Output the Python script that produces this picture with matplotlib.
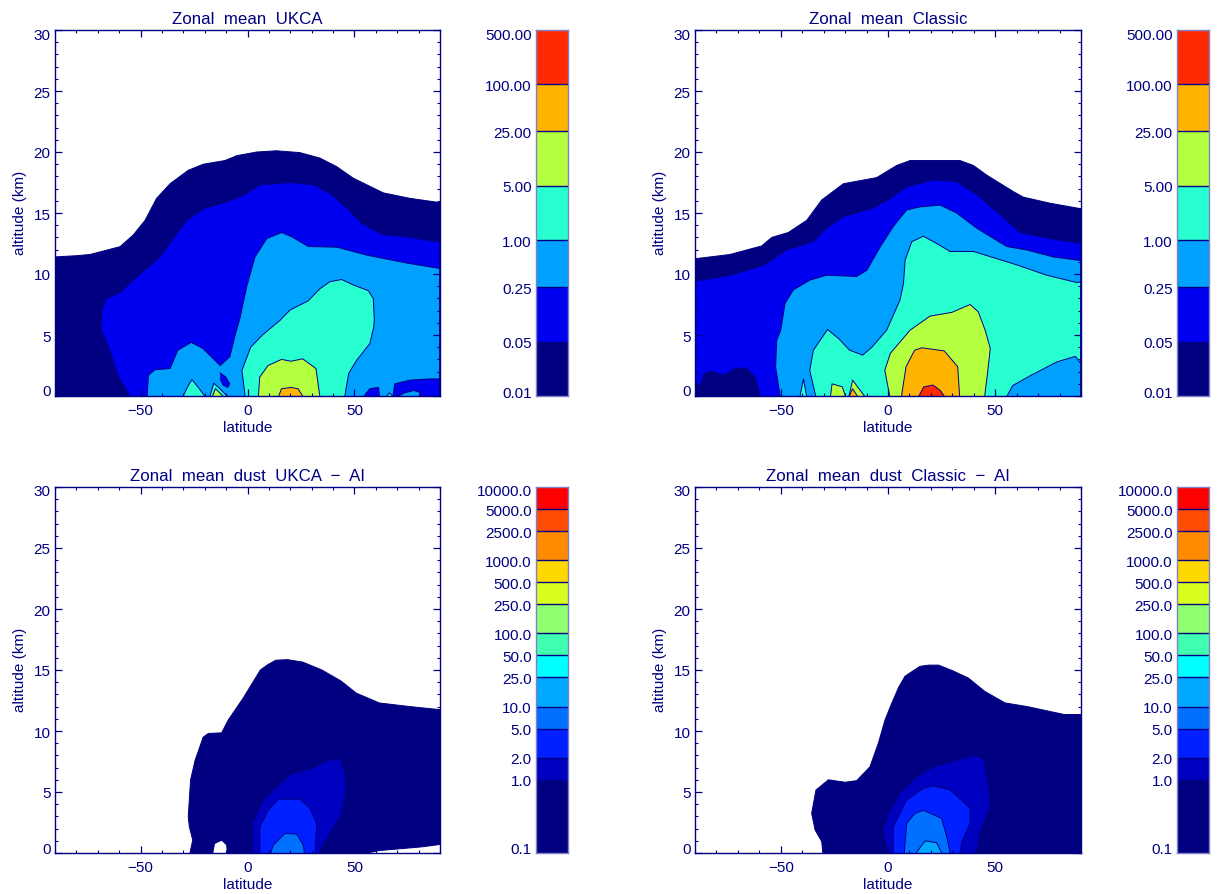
"""Zonal mean dust cross sections, latitude against altitude, four panels."""

import matplotlib
matplotlib.use('Agg')
import matplotlib.pyplot as plt
from matplotlib.transforms import ScaledTranslation

NAVY = '#000080'
plt.rcParams['font.family'] = ['Liberation Sans', 'DejaVu Sans']

# Colour bar levels and colours
levels_top = [0.01, 0.05, 0.25, 1.0, 5.0, 25.0, 100.0, 500.0]
labels_top = ['0.01', '0.05', '0.25', '1.00', '5.00', '25.00', '100.00', '500.00']
colors_top = ['#000080', '#0000f0', '#00a0ff', '#28ffd0', '#b4ff40', '#ffb400', '#ff2a00']

levels_low = [0.1, 1, 2, 5, 10, 25, 50, 100, 250, 500, 1000, 2500, 5000, 10000]
labels_low = ['0.1', '1.0', '2.0', '5.0', '10.0', '25.0', '50.0', '100.0', '250.0', '500.0',
              '1000.0', '2500.0', '5000.0', '10000.0']
colors_low = ['#000080', '#0000c0', '#0020ff', '#0070ff', '#00a8ff', '#00ffff', '#40ffb0',
              '#90ff70', '#d8ff20', '#ffd800', '#ff8c00', '#ff4c00', '#ff0000']

# Contours, (latitude, altitude km)
ukca_001 = [(-90, 0), (-90, 11.4), (-80, 11.5), (-73.6, 11.6), (-59.6, 12.24), (-53.4, 13.2), (-47.9, 14.4),
            (-42.5, 16.2), (-36.2, 17.4), (-27.7, 18.5), (-20.7, 19), (-10.5, 19.3), (-5, 19.7), (4.3, 20),
            (13.6, 20.1), (24.5, 19.95), (33.9, 19.5), (41.7, 18.8), (49.5, 17.85), (63.5, 16.65),
            (76, 16.2), (90, 15.85), (90, 0)]
ukca_005 = [(-55, 0), (-60.4, 1.6), (-64.9, 4), (-68.5, 5.5), (-68.2, 7.05), (-65.8, 8), (-59.6, 8.47),
            (-53.4, 9.5), (-40.9, 11.4), (-34.7, 12.9), (-28.4, 14.4), (-19.9, 15.4), (-11.3, 15.8),
            (-1.2, 16.5), (5.8, 17.3), (19.9, 17.5), (30.8, 17.3), (38.6, 16.6), (46.4, 15.4),
            (53.4, 14.15), (62.7, 13.25), (76, 13), (90, 12.6), (90, 0)]
ukca_025 = [(-46.9, 0), (-46.3, 1.7), (-43.3, 2.15), (-36.2, 2.25), (-32.6, 3.75), (-26.3, 4.4),
            (-20.9, 3.9), (-12.8, 2.5), (-8.3, 3.2), (-5.6, 5.1), (-3.5, 6.4), (-0.4, 8.95), (3.5, 11.4),
            (9, 12.9), (16, 13.4), (20.7, 13.05), (28.4, 12.25), (41.7, 12.2), (55.7, 11.55), (74.4, 10.9),
            (90, 10.45), (90, 0)]
ukca_hole_a = [(-12.8, 1.9), (-10.1, 1.55), (-8.3, 1), (-9.2, 0.7), (-11.4, 0.9), (-12.8, 1.4)]
ukca_hole_b = [(54.5, 0), (57.2, 0.6), (61.3, 0.7), (61.7, 0)]
ukca_hole_c = [(68, 0), (68.9, 1), (76, 1.3), (85, 1.4), (90, 1.4), (90, 0)]
ukca_blot_a = [(70.7, 0), (73.3, 0.25), (77.8, 0.45), (80.5, 0.3), (81, 0)]
ukca_blot_b = [(65.3, 0), (66.2, 0.25), (68, 0)]
ukca_1_main = [(-1.1, 0), (-2.6, 2.1), (1.5, 4), (7, 5), (15.2, 6.2), (19.9, 7.05), (28.4, 7.8), (33.9, 8.8),
               (38.6, 9.37), (44, 9.55), (49.5, 9.1), (56.5, 8.63), (58.8, 8), (59.3, 6.2), (59, 5.65),
               (57.2, 4.3), (50.9, 2.9), (47.3, 1.85), (45.5, 0)]
ukca_1_left = [(-30, 0), (-28, 0.75), (-26, 1.35), (-23, 0.7), (-20, 0)]
ukca_1_spot = [(-17.5, 0), (-15.8, 1.05), (-13, 0.6), (-9.5, 0)]
ukca_5_spot = [(-16.3, 0), (-15, 0.6), (-11.5, 0)]
ukca_5_main = [(5.1, 0), (5.7, 1.55), (9.6, 2.5), (15.9, 3), (20.4, 2.85), (25.8, 3.05), (32, 2.25),
               (33.8, 0)]
ukca_25_main = [(14.6, 0), (15.9, 0.6), (20.4, 0.7), (23.6, 0.6), (25.8, 0)]

classic_001 = [(-90, 0), (-90, 11.25), (-73.7, 11.6), (-58.9, 12.3), (-54.2, 13), (-46.5, 13.4),
               (-37.9, 14.4), (-30.9, 16.07), (-20.8, 17.4), (-5.3, 17.9), (4.1, 18.9), (10.3, 19.3),
               (33.6, 19.3), (39.8, 18.9), (46.1, 18.1), (58.5, 16.75), (63.1, 16.3), (75.6, 15.8),
               (90, 15.35), (90, 0)]
classic_005 = [(-90, 0), (-90, 9.4), (-73.7, 9.9), (-58.1, 10.7), (-47.3, 11.97), (-34.8, 12.65),
               (-28.6, 13.75), (-20.8, 14.7), (-6.8, 15.4), (1, 16.2), (8.7, 17.15), (21.2, 17.7),
               (32, 17.57), (41.4, 16.5), (50.7, 15.1), (61.6, 13.4), (75.6, 12.9), (90, 12.5), (90, 0)]
classic_hole = [(-90, 0), (-90, 1.2), (-87.5, 0.8), (-86, 1.8), (-82.6, 2.05), (-76.5, 1.7),
                (-71.4, 2.25), (-66.2, 2.3), (-61.9, 1.55), (-59.6, 0)]
classic_025 = [(-50.3, 0), (-52.4, 2.4), (-51.9, 4.55), (-50, 5.4), (-48, 7.6), (-44.1, 8.7), (-36.4, 9.5),
               (-28.6, 9.9), (-14.6, 9.8), (-9.9, 10.3), (-3.7, 12.2), (2.5, 13.9), (8.7, 15.25),
               (15, 15.5), (24.3, 15.65), (32, 15), (41.4, 13.75), (55.4, 12.25), (64.7, 11.97),
               (77.1, 11.4), (90, 11.1), (90, 0)]
classic_1_main = [(-33.7, 0), (-36.5, 2.1), (-34.8, 3.75), (-28.2, 5.45), (-23, 4.7), (-17.9, 3.75),
                  (-11.8, 3.35), (-7.5, 4), (-0.6, 5.4), (5.6, 7.87), (7.2, 9.2), (8, 11.15), (11.1, 12.65),
                  (16.5, 13.1), (22.7, 12.5), (28.9, 11.85), (39.8, 11.85), (60, 10.75), (74, 9.9),
                  (88, 9.3), (90, 9.35), (90, 2.65), (87.4, 3.25), (78.8, 2.8), (66.7, 1.7), (58.1, 0.85),
                  (55.5, 0)]
classic_1_spike = [(-41, 0), (-39.4, 1.4), (-38, 0)]
classic_5_main = [(0.8, 0), (-1.5, 2.1), (1.1, 3.5), (10.3, 5.4), (19.6, 6.55), (29.7, 6.85), (38.3, 7.5),
                  (42.1, 6.9), (45.3, 5.4), (47.7, 3.9), (46.5, 2), (45.1, 0)]
classic_5_left = [(-26.8, 0), (-26.1, 1), (-21.3, 0.75), (-19.9, 0)]
classic_5_spot = [(-18.2, 0), (-16.5, 1.3), (-11, 0)]
classic_25_spot = [(-18, 0), (-16.5, 0.6), (-14.3, 0)]
classic_25_main = [(6.3, 0), (8.4, 2.4), (12.4, 3.75), (15.8, 3.95), (26.2, 3.7), (32.5, 2.4), (33.4, 0)]
classic_100_main = [(14.4, 0), (16.7, 0.75), (21, 0.9), (24.4, 0.45), (26.2, 0)]

ukca_ai_01 = [(-26.9, 0), (-25.6, 1.07), (-27.2, 2.15), (-27.7, 3), (-26.6, 6), (-24.5, 7.6), (-20.7, 9.5),
              (-18.3, 9.8), (-12.1, 9.85), (-9, 10.9), (-2, 12.7), (6, 15), (9.6, 15.45), (13.2, 15.8),
              (18.6, 15.85), (25.8, 15.65), (34.8, 15), (43.7, 14.1), (50.9, 13.1), (56.3, 12.7), (61.6, 12.3),
              (76, 12), (90, 11.75), (90, 0.7), (81.4, 0.5), (61.6, 0.2), (56.2, 0)]
ukca_ai_hole = [(-16, 0), (-15.2, 0.75), (-12.1, 1), (-10, 0.65), (-9.7, 0)]
ukca_ai_1 = [(2.4, 0), (2.4, 2.43), (7.4, 4.34), (15.2, 5.7), (20.6, 6.5), (30, 6.94), (37, 7.57),
             (43.2, 7.76), (45.6, 6.5), (46, 4.9), (43.2, 3), (38.6, 1.6), (34.7, 0.5), (33.9, 0)]
ukca_ai_2 = [(5.8, 0), (5.8, 2.15), (9.7, 3.5), (14.4, 4.4), (24.5, 4.4), (29.2, 3.66), (32.3, 2.43), (31.6, 0)]
ukca_ai_5 = [(10.8, 0), (12.1, 0.65), (17.5, 1.6), (23, 1.55), (26.1, 0.65), (26.6, 0)]

classic_ai_01 = [(-30.4, 0), (-30.9, 0.93), (-34, 1.89), (-35.6, 3.25), (-33.6, 5.16), (-27.8, 6), (-20, 5.8),
                 (-14.6, 5.93), (-8.4, 7.07), (-4.5, 9), (-1.4, 10.9), (1.1, 12), (5, 13.6), (8, 14.5),
                 (14.9, 15.3), (19, 15.4), (23.6, 15.4), (30, 14.95), (37.4, 14.35), (45.1, 13.25),
                 (54.6, 12.3), (65, 12), (82.2, 11.35), (90, 11.35), (90, 0)]
classic_ai_1 = [(-0.3, 0), (-2.2, 1.89), (0.2, 3.25), (5.6, 4.9), (13.4, 6.25), (21.1, 7.07), (33.6, 7.68),
                (39.8, 8), (44.5, 7.76), (46.8, 5.43), (47.6, 3.8), (42.9, 1.6), (41.4, 0)]
classic_ai_2 = [(2.5, 0), (2.5, 2.15), (8.7, 4.34), (16.5, 5.3), (21.1, 5.49), (29, 5.16), (38.3, 3.66),
                (38.3, 2.43), (34.4, 0.93), (33.6, 0)]
classic_ai_5 = [(7.6, 0), (8.7, 2.43), (12.6, 3.25), (16.5, 3.5), (25, 2.84), (27.4, 1.34), (29, 0)]
classic_ai_10 = [(13.1, 0), (17.3, 1), (22.7, 0.84), (25, 0)]

# Each panel: contour, colour band, drawn in this order
shapes_ukca = [(ukca_001, 0), (ukca_005, 1), (ukca_025, 2), (ukca_hole_a, 1), (ukca_hole_b, 1),
               (ukca_hole_c, 1), (ukca_blot_a, 2), (ukca_blot_b, 3), (ukca_1_main, 3), (ukca_1_left, 3),
               (ukca_1_spot, 3), (ukca_5_spot, 4), (ukca_5_main, 4), (ukca_25_main, 5)]
shapes_classic = [(classic_001, 0), (classic_005, 1), (classic_hole, 0), (classic_025, 2),
                  (classic_1_main, 3), (classic_1_spike, 3), (classic_5_main, 4), (classic_5_left, 4),
                  (classic_5_spot, 4), (classic_25_spot, 5), (classic_25_main, 5), (classic_100_main, 6)]
shapes_ukca_ai = [(ukca_ai_01, 0), (ukca_ai_hole, None), (ukca_ai_1, 1), (ukca_ai_2, 2), (ukca_ai_5, 3)]
shapes_classic_ai = [(classic_ai_01, 0), (classic_ai_1, 1), (classic_ai_2, 2), (classic_ai_5, 3),
                     (classic_ai_10, 4)]

W, H = 1218.0, 894.0


def pixel_axes(fig, left, right, top, bottom):
    """Add axes placed by pixel edges of the reference."""
    return fig.add_axes([left / W, 1 - bottom / H, (right - left) / W, (bottom - top) / H])


def shift_label(fig, label, dx, dy):
    """Nudge a tick label by some pixels."""
    label.set_transform(label.get_transform() + ScaledTranslation(dx / 100.0, dy / 100.0, fig.dpi_scale_trans))


def plot_panel(fig, edges, title, shapes, colors):
    """Plot one latitude/altitude contour panel."""
    ax = pixel_axes(fig, *edges)
    for shape, band in shapes:
        lat = [p[0] for p in shape]
        alt = [p[1] for p in shape]
        if band is None:
            ax.fill(lat, alt, color='white', lw=0)
            continue
        ax.fill(lat, alt, color=colors[band], lw=0)
        ax.plot(lat, alt, color=NAVY, lw=0.7, solid_joinstyle='round')
    ax.set_xlim(-90, 90)
    ax.set_ylim(0, 30)
    ax.set_xticks([-50, 0, 50])
    ax.set_xticklabels(['\u221250', '0', '50'])
    ax.set_xticks(range(-90, 91, 10), minor=True)
    ax.set_yticks(range(0, 31, 5))
    ax.set_yticks(range(0, 31), minor=True)
    ax.tick_params(which='major', direction='in', length=5, width=0.9, color=NAVY, labelcolor=NAVY,
                   top=True, right=True, labelsize=11, pad=4)
    ax.tick_params(axis='x', which='major', pad=6)
    ax.tick_params(which='minor', direction='in', length=2.5, width=0.8, color=NAVY, top=True, right=True)
    for spine in ax.spines.values():
        spine.set_color(NAVY)
        spine.set_linewidth(1.0)
    ylabels = ax.get_yticklabels()
    for label in ylabels:
        shift_label(fig, label, 1, -1)
    shift_label(fig, ylabels[0], 0, 6)
    shift_label(fig, ylabels[-1], 0, -3)
    ax.set_xlabel('latitude', color=NAVY, fontsize=11, va='center')
    ax.xaxis.set_label_coords(0.5, -32.0 / 366)
    ax.set_ylabel('altitude (km)', color=NAVY, fontsize=11, va='center')
    ax.yaxis.set_label_coords(-35.0 / 385, 0.5)
    ax.set_title(title, color=NAVY, fontsize=12.2, pad=4)
    return ax


def plot_colorbar(fig, edges, levels, labels, colors):
    """Plot the stacked colour bar on a log axis."""
    ax = pixel_axes(fig, *edges)
    ax.set_yscale('log')
    for lo, hi, c in zip(levels[:-1], levels[1:], colors):
        ax.bar(0.5, hi - lo, bottom=lo, width=1, color=c, lw=0)
    ax.hlines(levels[1:-1], 0, 1, color=NAVY, lw=1.0)
    ax.set_xlim(0, 1)
    ax.set_ylim(levels[0], levels[-1])
    ax.set_xticks([])
    ax.set_yticks(levels)
    ax.set_yticklabels(labels)
    ax.minorticks_off()
    ax.tick_params(axis='y', length=0, labelcolor=NAVY, labelsize=11, pad=3)
    for spine in ax.spines.values():
        spine.set_color('#8080c8')
        spine.set_linewidth(1.0)
    ylabels = ax.get_yticklabels()
    for label in ylabels:
        shift_label(fig, label, 0, -1)
    shift_label(fig, ylabels[0], 0, 5)
    shift_label(fig, ylabels[-1], 0, -3)


def create_plot():
    """Create the four panel figure."""
    fig = plt.figure(figsize=(W / 100, H / 100), dpi=100, facecolor='white')
    plot_panel(fig, (55, 440, 30, 396), 'Zonal  mean  UKCA', shapes_ukca, colors_top)
    plot_panel(fig, (695, 1081, 30, 396), 'Zonal  mean  Classic', shapes_classic, colors_top)
    plot_panel(fig, (55, 440, 487, 853), 'Zonal  mean  dust  UKCA  \u2212  AI', shapes_ukca_ai, colors_low)
    plot_panel(fig, (695, 1081, 487, 853), 'Zonal  mean  dust  Classic  \u2212  AI', shapes_classic_ai, colors_low)
    plot_colorbar(fig, (536, 568, 30, 396), levels_top, labels_top, colors_top)
    plot_colorbar(fig, (1177, 1209, 30, 396), levels_top, labels_top, colors_top)
    plot_colorbar(fig, (536, 568, 487, 853), levels_low, labels_low, colors_low)
    plot_colorbar(fig, (1177, 1209, 487, 853), levels_low, labels_low, colors_low)
    fig.savefig('out.png', dpi=100)


if __name__ == '__main__':
    create_plot()
